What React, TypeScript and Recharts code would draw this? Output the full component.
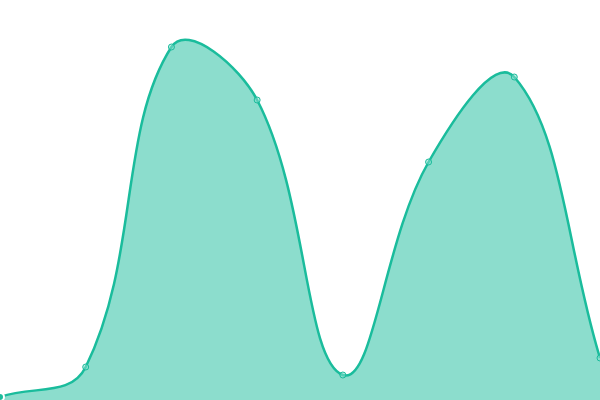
import React from "react";

import { AreaChart, Area, XAxis, YAxis } from "recharts";

const labels = ["A", "B", "C", "D", "E", "F", "G", "H"];
const values = [3, 33, 353, 300, 25, 238, 323, 42];

const data = labels.map((name, i) => ({ name, value: values[i] }));

// tension spline (control points scaled by neighbour distances), tension 0.4
function tensionCurve(context: any) {
  const t = 0.4;
  let line = NaN;
  let pts: number[][] = [];

  return {
    areaStart() {
      line = 0;
    },
    areaEnd() {
      line = NaN;
    },
    lineStart() {
      pts = [];
    },
    point(x: number, y: number) {
      pts.push([+x, +y]);
    },
    lineEnd() {
      const n = pts.length;
      if (n) {
        line ? context.lineTo(pts[0][0], pts[0][1]) : context.moveTo(pts[0][0], pts[0][1]);
        if (n === 2) {
          context.lineTo(pts[1][0], pts[1][1]);
        } else if (n > 2) {
          const prevCtl: number[][] = [];
          const nextCtl: number[][] = [];
          for (let i = 0; i < n; i++) {
            const cur = pts[i];
            const prev = pts[Math.max(i - 1, 0)];
            const next = pts[Math.min(i + 1, n - 1)];
            const d01 = Math.hypot(cur[0] - prev[0], cur[1] - prev[1]);
            const d12 = Math.hypot(next[0] - cur[0], next[1] - cur[1]);
            let s01 = d01 / (d01 + d12);
            let s12 = d12 / (d01 + d12);
            if (isNaN(s01)) s01 = 0;
            if (isNaN(s12)) s12 = 0;
            const fa = t * s01;
            const fb = t * s12;
            prevCtl.push([cur[0] - fa * (next[0] - prev[0]), cur[1] - fa * (next[1] - prev[1])]);
            nextCtl.push([cur[0] + fb * (next[0] - prev[0]), cur[1] + fb * (next[1] - prev[1])]);
          }
          for (let i = 0; i < n - 1; i++) {
            context.bezierCurveTo(
              nextCtl[i][0],
              nextCtl[i][1],
              prevCtl[i + 1][0],
              prevCtl[i + 1][1],
              pts[i + 1][0],
              pts[i + 1][1]
            );
          }
        }
      }
      if (line || (line !== 0 && n === 1)) context.closePath();
      line = 1 - line;
    },
  };
}

export default function App() {
  return (
    <div style={{ position: "absolute", top: 0, left: 0 }}>
      <AreaChart
        data={data}
        width={600}
        height={400}
        margin={{ top: 0, right: 0, bottom: 0, left: 0 }}
      >
        <XAxis dataKey="name" hide />
        <YAxis domain={[0, 400]} hide />
        <Area
          type={tensionCurve as any}
          dataKey="value"
          stroke="#1abc9c"
          strokeWidth={2.5}
          fill="#1abc9c"
          fillOpacity={0.5}
          dot={{ r: 3, fill: "#8ce0cf", stroke: "#1abc9c", strokeWidth: 1 }}
          isAnimationActive={false}
        />
      </AreaChart>
    </div>
  );
}
